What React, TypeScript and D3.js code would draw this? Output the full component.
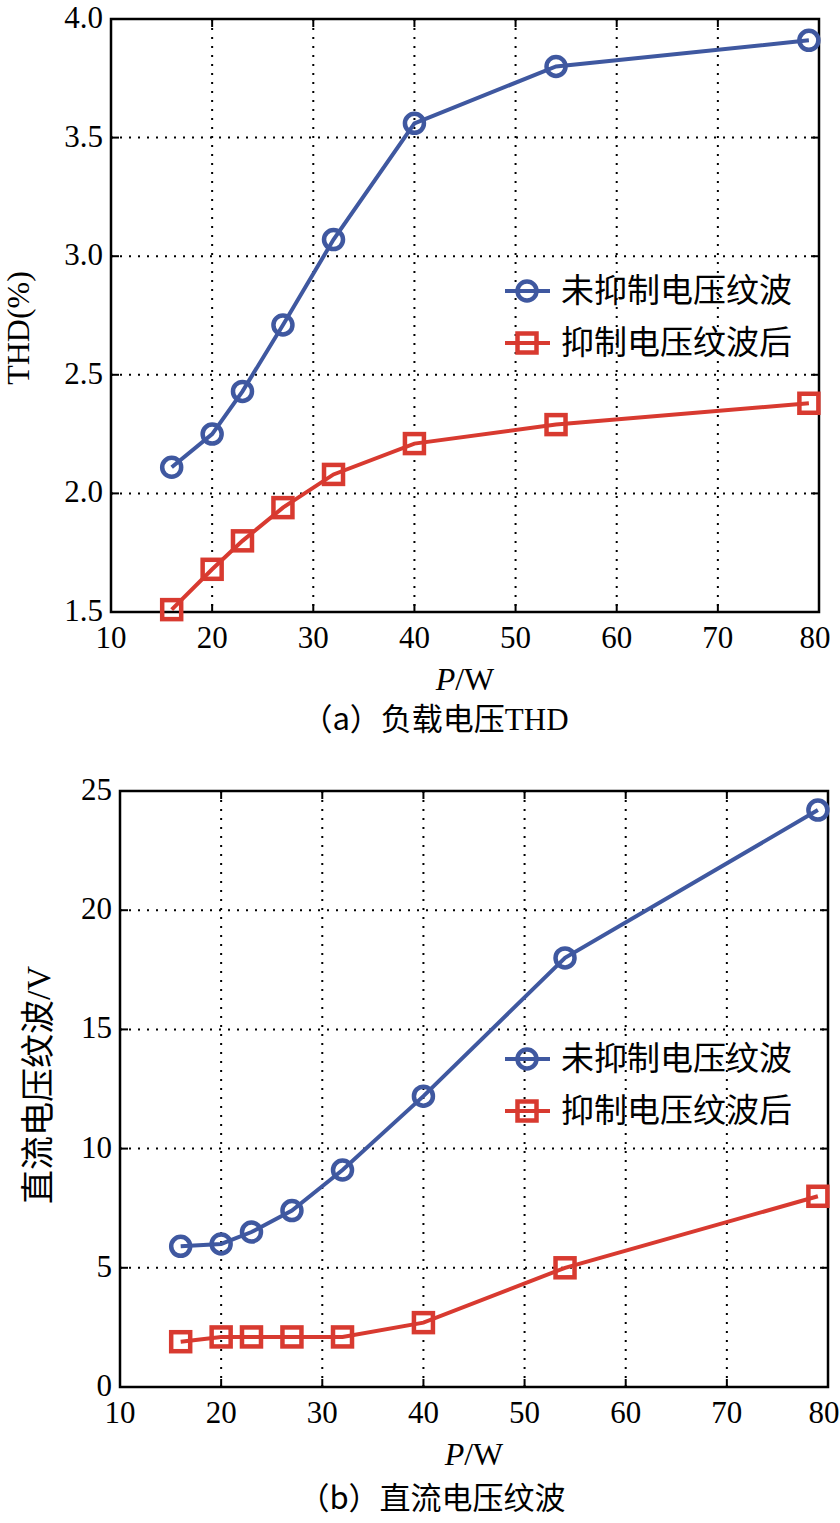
import React from "react";
import * as d3 from "d3";

const powerW = [16, 20, 23, 27, 32, 40, 54, 79];
const thdUnsuppressed = [2.11, 2.25, 2.43, 2.71, 3.07, 3.56, 3.8, 3.91];
const thdSuppressed = [1.51, 1.68, 1.8, 1.94, 2.08, 2.21, 2.29, 2.38];
const rippleUnsuppressed = [5.9, 6.0, 6.5, 7.4, 9.1, 12.2, 18.0, 24.2];
const rippleSuppressed = [1.9, 2.1, 2.1, 2.1, 2.1, 2.7, 5.0, 8.0];
const xTicks = [10, 20, 30, 40, 50, 60, 70, 80];
const thdTicks = [1.5, 2.0, 2.5, 3.0, 3.5, 4.0];
const rippleTicks = [0, 5, 10, 15, 20, 25];
const seriesNames = ["未抑制电压纹波", "抑制电压纹波后"];

const BLUE = "#3f58a0";
const RED = "#d83a30";
const SERIF = "Liberation Serif";
const CJK = "Noto Sans CJK SC";

type PanelProps = {
  top: number;
  bottom: number;
  left: number;
  right: number;
  yDomain: [number, number];
  yTicks: number[];
  yFmt: (v: number) => string;
  s1: number[];
  s2: number[];
  legendY: number;
};

function Panel(p: PanelProps) {
  const x = d3.scaleLinear().domain([10, 80]).range([p.left, p.right]);
  const y = d3.scaleLinear().domain(p.yDomain).range([p.bottom, p.top]);
  const line = d3
    .line<number>()
    .x((_, i) => x(powerW[i]))
    .y((d) => y(d));
  const tl = 8;
  return (
    <g>
      {xTicks.slice(1, -1).map((t) => (
        <line key={"gx" + t} x1={x(t)} x2={x(t)} y1={p.top} y2={p.bottom} stroke="#000" strokeWidth={2} strokeDasharray="2,7" />
      ))}
      {p.yTicks.slice(1, -1).map((t) => (
        <line key={"gy" + t} x1={p.left} x2={p.right} y1={y(t)} y2={y(t)} stroke="#000" strokeWidth={2} strokeDasharray="2,7" />
      ))}
      {xTicks.map((t) => (
        <g key={"tx" + t}>
          <line x1={x(t)} x2={x(t)} y1={p.bottom} y2={p.bottom - tl} stroke="#000" strokeWidth={2} />
          <line x1={x(t)} x2={x(t)} y1={p.top} y2={p.top + tl} stroke="#000" strokeWidth={2} />
          <text x={x(t) - (t === 80 ? 4 : 0)} y={p.bottom + 36} textAnchor="middle" style={{ fontFamily: SERIF, fontSize: 31 }}>{t}</text>
        </g>
      ))}
      {p.yTicks.map((t) => (
        <g key={"ty" + t}>
          <line x1={p.left} x2={p.left + tl} y1={y(t)} y2={y(t)} stroke="#000" strokeWidth={2} />
          <line x1={p.right} x2={p.right - tl} y1={y(t)} y2={y(t)} stroke="#000" strokeWidth={2} />
          <text x={p.left - 8} y={y(t) + 9} textAnchor="end" style={{ fontFamily: SERIF, fontSize: 31 }}>{p.yFmt(t)}</text>
        </g>
      ))}
      <rect x={p.left} y={p.top} width={p.right - p.left} height={p.bottom - p.top} fill="none" stroke="#000" strokeWidth={2.5} />
      <path d={line(p.s1) || ""} fill="none" stroke={BLUE} strokeWidth={4} />
      <path d={line(p.s2) || ""} fill="none" stroke={RED} strokeWidth={4} />
      {p.s1.map((v, i) => (
        <circle key={"c" + i} cx={x(powerW[i])} cy={y(v)} r={9.5} fill="none" stroke={BLUE} strokeWidth={4.5} />
      ))}
      {p.s2.map((v, i) => (
        <rect key={"s" + i} x={x(powerW[i]) - 9.5} y={y(v) - 9.5} width={19} height={19} fill="none" stroke={RED} strokeWidth={4.5} />
      ))}
      <g>
        <line x1={505} x2={550} y1={p.legendY} y2={p.legendY} stroke={BLUE} strokeWidth={4} />
        <circle cx={527} cy={p.legendY} r={9.5} fill="none" stroke={BLUE} strokeWidth={4.5} />
        <text x={561} y={p.legendY + 11} style={{ fontFamily: CJK, fontSize: 33 }}>{seriesNames[0]}</text>
        <line x1={505} x2={550} y1={p.legendY + 52} y2={p.legendY + 52} stroke={RED} strokeWidth={4} />
        <rect x={517.5} y={p.legendY + 42.5} width={19} height={19} fill="none" stroke={RED} strokeWidth={4.5} />
        <text x={561} y={p.legendY + 63} style={{ fontFamily: CJK, fontSize: 33 }}>{seriesNames[1]}</text>
      </g>
      <text x={(p.left + p.right) / 2} y={p.bottom + 78} textAnchor="middle" style={{ fontFamily: SERIF, fontSize: 32 }}>
        <tspan style={{ fontStyle: "italic" }}>P</tspan>/W
      </text>
    </g>
  );
}

export default function App() {
  return (
    <div style={{ position: "absolute", left: 0, top: 0 }}>
      <svg width={840} height={1523} style={{ display: "block", background: "#fff" }}>
        <Panel top={19} bottom={612} left={111} right={819} yDomain={[1.5, 4.0]} yTicks={thdTicks}
          yFmt={(v) => v.toFixed(1)} s1={thdUnsuppressed} s2={thdSuppressed} legendY={291} />
        <text transform="translate(29,328) rotate(-90)" textAnchor="middle" style={{ fontFamily: SERIF, fontSize: 32 }}>THD(%)</text>
        <text x={435} y={730} textAnchor="middle" style={{ fontSize: 31 }}>
          <tspan style={{ fontFamily: CJK }}>（a）负载电压</tspan><tspan style={{ fontFamily: SERIF }}>THD</tspan>
        </text>

        <Panel top={791} bottom={1387} left={120} right={828} yDomain={[0, 25]} yTicks={rippleTicks}
          yFmt={(v) => String(v)} s1={rippleUnsuppressed} s2={rippleSuppressed} legendY={1059} />
        <text transform="translate(50,1085) rotate(-90)" textAnchor="middle" style={{ fontSize: 34 }}>
          <tspan style={{ fontFamily: CJK }}>直流电压纹波</tspan><tspan style={{ fontFamily: SERIF }}>/V</tspan>
        </text>
        <text x={432} y={1509} textAnchor="middle" style={{ fontSize: 31 }}>
          <tspan style={{ fontFamily: CJK }}>（b）直流电压纹波</tspan>
        </text>
      </svg>
    </div>
  );
}
